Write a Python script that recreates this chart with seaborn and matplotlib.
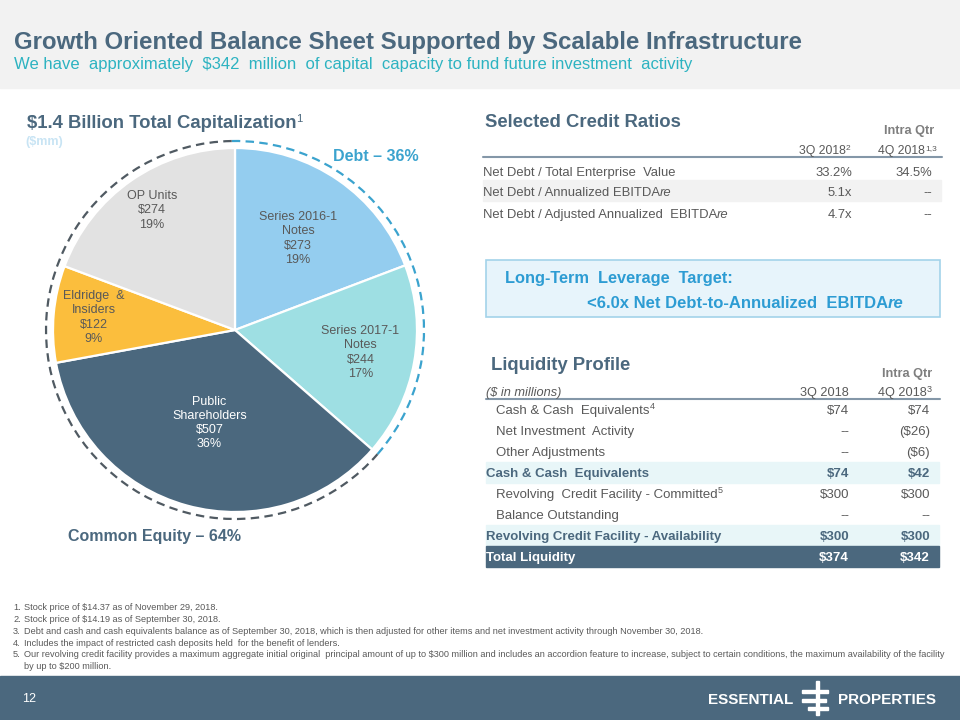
import numpy as np
import pandas as pd
import matplotlib.pyplot as plt
import seaborn as sns
from matplotlib.patches import Rectangle, Arc

sns.set_theme(style="white")
plt.rcParams['font.family'] = ['Liberation Sans', 'DejaVu Sans']

SLATE = "#4B687E"
GREY_TXT = "#595959"
TEAL = "#2DB3C1"
DEBT_BLUE = "#3BA3CE"

# =========================
# DATA
# =========================
cap_labels = ["Series 2016-1\nNotes", "Series 2017-1\nNotes", "Public\nShareholders",
              "Eldridge  &\nInsiders", "OP Units"]
cap_values = [273, 244, 507, 122, 274]
cap_pcts = [19, 17, 36, 9, 19]
cap_colors = ["#94CDEF", "#9EDFE3", SLATE, "#FBBE3D", "#E2E2E2"]
debt_pct = 36
equity_pct = 64
n_debt = 2

ratio_names = ["Net Debt / Total Enterprise  Value", "Net Debt / Annualized EBITDA",
               "Net Debt / Adjusted Annualized  EBITDA"]
ratio_re = [False, True, True]
ratio_3q = ["33.2%", "5.1x", "4.7x"]
ratio_4q = ["34.5%", "--", "--"]

liq_names = ["Cash & Cash  Equivalents", "Net Investment  Activity", "Other Adjustments",
             "Cash & Cash  Equivalents", "Revolving  Credit Facility - Committed",
             "Balance Outstanding", "Revolving Credit Facility - Availability", "Total Liquidity"]
liq_notes = ["4", "", "", "", "5", "", "", ""]
liq_kind = ["item", "item", "item", "sub", "item", "item", "sub", "total"]
liq_3q = ["$74", "--", "--", "$74", "$300", "--", "$300", "$374"]
liq_4q = ["$74", "($26)", "($6)", "$42", "$300", "--", "$300", "$342"]

footnotes = [
    ["Stock price of $14.37 as of November 29, 2018."],
    ["Stock price of $14.19 as of September 30, 2018."],
    ["Debt and cash and cash equivalents balance as of September 30, 2018, which is then adjusted for other items and net investment activity through November 30, 2018."],
    ["Includes the impact of restricted cash deposits held  for the benefit of lenders."],
    ["Our revolving credit facility provides a maximum aggregate initial original  principal amount of up to $300 million and includes an accordion feature to increase, subject to certain conditions, the maximum availability of the facility",
     "by up to $200 million."],
]

# =========================
# FIGURE / HELPERS
# =========================
fig = plt.figure(figsize=(9.6, 7.2), dpi=100)
bg = fig.add_axes([0, 0, 1, 1])
bg.set_xlim(0, 960)
bg.set_ylim(720, 0)
bg.axis('off')
renderer = fig.canvas.get_renderer()


def T(x, yc, s, size=9, color=GREY_TXT, **kw):
    # yc is the visual centre of the capitals; draw on the baseline
    return bg.text(x, yc + 0.5 * size, s, fontsize=size, color=color,
                   va='baseline', **kw)


def tail(t, s, size=None, rise=0, **kw):
    bb = t.get_window_extent(renderer=renderer)
    x = bg.transData.inverted().transform((bb.x1, bb.y0))[0]
    y = t.get_position()[1] - rise
    kw.setdefault('color', t.get_color())
    kw.setdefault('fontweight', t.get_fontweight())
    return bg.text(x, y, s, fontsize=size or t.get_fontsize(), va='baseline', **kw)


# header band
bg.add_patch(Rectangle((0, 0), 960, 88, color="#F2F2F2", zorder=0))
T(14, 40, "Growth Oriented Balance Sheet Supported by Scalable Infrastructure",
  size=17.3, color=SLATE, fontweight='bold')
T(14, 63, "We have  approximately  $342  million  of capital  capacity to fund future investment  activity",
  size=12, color=TEAL)

# =========================
# PIE
# =========================
t = T(27, 121, "$1.4 Billion Total Capitalization", size=13.3, color=SLATE, fontweight='bold')
tail(t, "1", size=8, rise=6, fontweight='normal')
T(25, 140, "($mm)", size=9, color="#C8E4F4", fontweight='bold')

cx, cy, R, RD = 235, 330, 182, 189
pax = fig.add_axes([(cx - 200) / 960, 1 - (cy + 200) / 720, 400 / 960, 400 / 720])
wedges, _ = pax.pie(cap_values, radius=R, startangle=90, counterclock=False,
                    colors=cap_colors, wedgeprops=dict(edgecolor='white', linewidth=1.6))
pax.set_xlim(-200, 200)
pax.set_ylim(-200, 200)
pax.axis('off')

label_r = [0.61, 0.70, 0.53, 0.78, 0.80]
for w, lab, val, pct, rf in zip(wedges, cap_labels, cap_values, cap_pcts, label_r):
    ang = np.deg2rad((w.theta1 + w.theta2) / 2)
    col = 'white' if w.get_facecolor()[0] < 0.5 else GREY_TXT
    pax.text(rf * R * np.cos(ang), rf * R * np.sin(ang), f"{lab}\n${val}\n{pct}%",
             ha='center', va='center', fontsize=9, color=col, linespacing=1.25)

debt_end = wedges[n_debt - 1].theta1
pax.add_patch(Arc((0, 0), 2 * RD, 2 * RD, theta1=debt_end, theta2=91,
                  color=DEBT_BLUE, lw=1.6, ls=(0, (3.8, 2.4)), clip_on=False))
pax.add_patch(Arc((0, 0), 2 * RD, 2 * RD, theta1=91, theta2=debt_end + 360,
                  color="#505A62", lw=1.6, ls=(0, (3.8, 2.4)), clip_on=False))

T(333, 155, f"Debt \u2013 {debt_pct}%", size=11.5, color=DEBT_BLUE, fontweight='bold')
T(68, 535, f"Common Equity \u2013 {equity_pct}%", size=11.5, color=SLATE, fontweight='bold')

# =========================
# SELECTED CREDIT RATIOS
# =========================
T(485, 120, "Selected Credit Ratios", size=13.3, color=SLATE, fontweight='bold')
T(934, 129, "Intra Qtr", size=9.2, color="#7F7F7F", fontweight='bold', ha='right')
t = T(846, 150, "3Q 2018", size=8.8, ha='right')
tail(t, "2", size=6, rise=4)
t = T(925, 150, "4Q 2018", size=8.8, ha='right')
tail(t, "1,3", size=6, rise=4)
bg.plot([483, 942], [157, 157], color="#8497A8", lw=1.5)

row_y = [171, 191, 213]
for i, (nm, re_, v3, v4, y) in enumerate(zip(ratio_names, ratio_re, ratio_3q, ratio_4q, row_y)):
    if i == 1:
        bg.add_patch(Rectangle((483, y - 11), 458, 21, color="#F2F2F2", zorder=0))
    t = T(483, y, nm, size=9.4)
    if re_:
        tail(t, "re", fontstyle='italic')
    T(852, y, v3, size=9.4, ha='right')
    T(932, y, v4, size=9.4, ha='right')

# target box
bg.add_patch(Rectangle((486, 260), 454, 57, facecolor="#E7F4FB", edgecolor="#A3D3EA", lw=1.2))
T(505, 277, "Long-Term  Leverage  Target:", size=11.8, color="#2D9CD3", fontweight='bold')
t = T(587, 302, "<6.0x Net Debt-to-Annualized  EBITDA", size=12, color="#2D9CD3", fontweight='bold')
tail(t, "re", fontstyle='italic')

# =========================
# LIQUIDITY PROFILE
# =========================
T(491, 363, "Liquidity Profile", size=13.3, color=SLATE, fontweight='bold')
T(932, 372, "Intra Qtr", size=9.2, color="#7F7F7F", fontweight='bold', ha='right')
T(486, 391, "($ in millions)", size=9.2, fontstyle='italic')
T(849, 391, "3Q 2018", size=9.2, ha='right')
t = T(927, 391, "4Q 2018", size=9.2, ha='right')
tail(t, "3", size=6.5, rise=4)
bg.plot([486, 940], [399, 399], color="#8497A8", lw=1.5)

for i, (nm, note, kind, v3, v4) in enumerate(zip(liq_names, liq_notes, liq_kind, liq_3q, liq_4q)):
    y = 409 + 21 * i
    if kind == "item":
        col, fw, x0 = GREY_TXT, 'normal', 496
    elif kind == "sub":
        bg.add_patch(Rectangle((486, y - 10.5), 453, 21, color="#E8F6F8", zorder=0))
        col, fw, x0 = SLATE, 'bold', 486
    else:
        bg.add_patch(Rectangle((486, y - 10.5), 453, 21.5, color=SLATE, zorder=0))
        col, fw, x0 = 'white', 'bold', 486
    t = T(x0, y, nm, size=9.5, color=col, fontweight=fw)
    if note:
        tail(t, note, size=6.5, rise=5)
    T(849, y, v3, size=9.5, color=col, fontweight=fw, ha='right')
    T(930, y, v4, size=9.5, color=col, fontweight=fw, ha='right')

# =========================
# FOOTNOTES / FOOTER
# =========================
fy = 607
for i, lines in enumerate(footnotes):
    T(13, fy, f"{i + 1}.", size=6.55)
    for ln in lines:
        T(24, fy, ln, size=6.55)
        fy += 11.8

bg.add_patch(Rectangle((0, 676), 960, 44, color=SLATE, zorder=0))
T(22, 697, "12", size=9, color='white')
T(793, 698, "ESSENTIAL", size=11, color='white', fontweight='bold', ha='right')
T(838, 698, "PROPERTIES", size=11, color='white', fontweight='bold')
bg.add_patch(Rectangle((815.5, 681), 3.5, 34, color='white'))
for yb, x0, x1 in [(689.5, 802, 828), (698.5, 802, 826), (706.5, 808, 828)]:
    bg.add_patch(Rectangle((x0, yb), x1 - x0, 3.2, color='white'))

fig.savefig("out.png", dpi=100)
